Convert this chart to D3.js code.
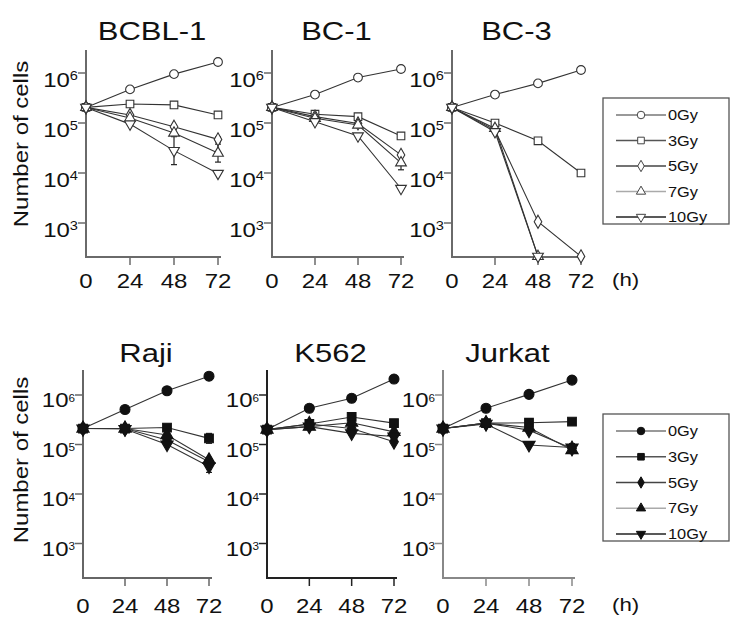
<!DOCTYPE html>
<html><head><meta charset="utf-8">
<script src="https://cdn.jsdelivr.net/npm/d3@7"></script>
<style>body{margin:0;background:#fff}svg{display:block}</style>
</head><body>
<svg id="c" width="744" height="629"></svg>
<script>
// ---- data ----
const hours = [0, 24, 48, 72];
const doses = ["0Gy", "3Gy", "5Gy", "7Gy", "10Gy"];
const topTitles = ["BCBL-1", "BC-1", "BC-3"];
const bottomTitles = ["Raji", "K562", "Jurkat"];
const yTickValues = [1e3, 1e4, 1e5, 1e6];
const yTickExponents = ["3", "4", "5", "6"];
const xTickLabels = ["0", "24", "48", "72"];
const yLabel = "Number of cells";
const unitLabel = "(h)";

// rows = doses, columns = hours (cells)
const bcbl1 = [
  [2.05e5, 4.7e5, 9.5e5, 1.66e6],
  [2.05e5, 2.4e5, 2.3e5, 1.45e5],
  [2.05e5, 1.45e5, 8.4e4, 4.7e4],
  [2.05e5, 1.26e5, 6.3e4, 2.5e4],
  [2.05e5, 9.5e4, 2.8e4, 9.8e3]
];
const bc1 = [
  [2.05e5, 3.7e5, 8.1e5, 1.2e6],
  [2.05e5, 1.5e5, 1.34e5, 5.5e4],
  [2.05e5, 1.34e5, 9.8e4, 2.3e4],
  [2.05e5, 1.24e5, 9.1e4, 1.6e4],
  [2.05e5, 1.06e5, 5.5e4, 4.9e3]
];
const bc3 = [
  [2.05e5, 3.7e5, 6.2e5, 1.15e6],
  [2.05e5, 1.0e5, 4.4e4, 1.0e4],
  [2.05e5, 7.2e4, 1.06e3, 215],
  [2.05e5, 7.8e4, 215, null],
  [2.05e5, 6.7e4, 215, null]
];
const raji = [
  [2.1e5, 5.1e5, 1.22e6, 2.4e6],
  [2.1e5, 2.1e5, 2.2e5, 1.33e5],
  [2.1e5, 2.1e5, 1.23e5, 4.5e4],
  [2.1e5, 2.1e5, 1.55e5, 4.9e4],
  [2.1e5, 2.05e5, 1.0e5, 3.6e4]
];
const k562 = [
  [2.0e5, 5.4e5, 8.6e5, 2.1e6],
  [2.0e5, 2.6e5, 3.6e5, 2.7e5],
  [2.0e5, 2.6e5, 2.1e5, 1.14e5],
  [2.0e5, 2.3e5, 2.75e5, 1.8e5],
  [2.0e5, 2.3e5, 1.68e5, 1.45e5]
];
const jurkat = [
  [2.1e5, 5.4e5, 1.03e6, 2.0e6],
  [2.1e5, 2.7e5, 2.75e5, 2.9e5],
  [2.1e5, 2.7e5, 1.95e5, 8.3e4],
  [2.1e5, 2.7e5, 2.2e5, 7.7e4],
  [2.1e5, 2.6e5, 9.8e4, 8.7e4]
];
// error bars: half-width in decades (log10 units)
const bcbl1Err = [[0,0,0,0],[0,0,0,0],[0,0,0,0.05],[0,0,0,0.18],[0,0,0.28,0]];
const bc1Err   = [[0,0,0,0],[0,0,0,0],[0,0,0,0],[0,0,0,0.14],[0,0,0,0]];
const bc3Err   = [[0,0,0,0],[0,0,0,0],[0,0,0,0],[0,0,0,0],[0,0,0,0]];
const rajiErr  = [[0,0,0,0],[0,0,0,0.1],[0,0,0,0],[0,0,0,0],[0,0,0,0.12]];
const k562Err  = [[0,0,0,0],[0,0,0,0],[0,0,0,0],[0,0,0,0],[0,0,0,0.12]];
const jurkatErr= [[0,0,0,0],[0,0,0,0],[0,0,0,0.1],[0,0,0,0],[0,0,0,0]];

// ---- layout / style ----
const SX = 1.17; // horizontal text stretch
const FONT = "'Liberation Sans', Arial, Helvetica, sans-serif";
const rows = [
  { titles: topTitles, data: [bcbl1, bc1, bc3], errs: [bcbl1Err, bc1Err, bc3Err], filled: false,
    xr: [[86, 218], [272, 401], [452, 581]], yTop: 50, yBot: 257, dom: [Math.pow(10, 2.32), Math.pow(10, 6.46)],
    titleY: 40, tickLabelY: 288, ylabY: 144, legendTop: 98, legendBot: 224,
    lblDy: 14, supSize: 12.5, supDy: -7, axisColors: ["#6a6a6a", "#6a6a6a", "#6a6a6a"] },
  { titles: bottomTitles, data: [raji, k562, jurkat], errs: [rajiErr, k562Err, jurkatErr], filled: true,
    xr: [[83, 209], [267, 394], [443, 572]], yTop: 370, yBot: 578, dom: [Math.pow(10, 2.303), Math.pow(10, 6.505)],
    titleY: 362, tickLabelY: 613, ylabY: 460, legendTop: 414, legendBot: 541,
    lblDy: 12.5, supSize: 10, supDy: -6, axisColors: ["#666", "#222", "#888"] }
];
const symbolTypes = [d3.symbolCircle, d3.symbolSquare, d3.symbolDiamond, d3.symbolTriangle, d3.symbolTriangle];
const symbolRot = [0, 0, 0, 0, 180];
const symbolSize = [60, 58, 50, 50, 50];
const legendLineColors = ["#777", "#555", "#444", "#aaa", "#222"];

const svg = d3.select("#c");

function stretchedText(g, x, y, str, size, anchor, rotate) {
  const t = g.append("g")
    .attr("transform", `translate(${x},${y})` + (rotate ? ` rotate(${rotate})` : "") + ` scale(${SX},1)`)
    .append("text")
    .attr("font-family", FONT).attr("font-size", size).attr("fill", "#111")
    .attr("text-anchor", anchor || "start");
  t.text(str);
  return t;
}

rows.forEach((row) => {
  row.titles.forEach((title, pi) => {
    const g = svg.append("g");
    const x = d3.scaleLinear().domain([0, 72]).range(row.xr[pi]);
    const y = d3.scaleLog().domain(row.dom).range([row.yBot, row.yTop]).clamp(true);
    const x0 = x(0);
    const axisColor = row.axisColors[pi];

    // title
    stretchedText(g, (x(0) + x(72)) / 2, row.titleY, title, 26.5, "middle");

    // axes
    g.append("line").attr("x1", x0).attr("x2", x0).attr("y1", row.yTop).attr("y2", row.yBot + 1)
      .attr("stroke", axisColor).attr("stroke-width", 2);
    g.append("line").attr("x1", x0 - 1).attr("x2", x(72) + 3).attr("y1", row.yBot).attr("y2", row.yBot)
      .attr("stroke", axisColor).attr("stroke-width", 2);
    // y ticks
    yTickValues.forEach((v, i) => {
      const yy = y(v);
      g.append("line").attr("x1", x0 - 8).attr("x2", x0).attr("y1", yy).attr("y2", yy)
        .attr("stroke", axisColor).attr("stroke-width", 1.5);
      const t = stretchedText(g, x0 - 8, yy + row.lblDy, "", 20.5, "end");
      t.append("tspan").text("10");
      t.append("tspan").attr("font-size", row.supSize).attr("dy", row.supDy).text(yTickExponents[i]);
    });
    // x ticks
    hours.forEach((h, i) => {
      const xx = x(h);
      if (i > 0) g.append("line").attr("x1", xx).attr("x2", xx).attr("y1", row.yBot).attr("y2", row.yBot + 8)
        .attr("stroke", axisColor).attr("stroke-width", 1.5);
      stretchedText(g, xx, row.tickLabelY, xTickLabels[i], 20.5, "middle");
    });
    if (pi === 0) stretchedText(g, 28, row.ylabY, yLabel, 20.5, "middle", -90);

    // series
    const data = row.data[pi], errs = row.errs[pi];
    const line = d3.line().defined(d => d.v != null).x(d => x(d.h)).y(d => y(d.v));
    data.forEach((vals, si) => {
      const pts = vals.map((v, i) => ({ h: hours[i], v: v, e: errs[si][i] }));
      g.append("path").datum(pts).attr("d", line).attr("fill", "none")
        .attr("stroke", "#333").attr("stroke-width", 1.1);
      pts.filter(p => p.v != null && p.e > 0).forEach(p => {
        const lv = Math.log10(p.v);
        const y1 = y(Math.pow(10, lv - p.e)), y2 = y(Math.pow(10, lv + p.e));
        g.append("line").attr("x1", x(p.h)).attr("x2", x(p.h)).attr("y1", y1).attr("y2", y2)
          .attr("stroke", "#222").attr("stroke-width", 1.2);
        [y1, y2].forEach(yy => g.append("line").attr("x1", x(p.h) - 3).attr("x2", x(p.h) + 3)
          .attr("y1", yy).attr("y2", yy).attr("stroke", "#222").attr("stroke-width", 1.2));
      });
    });
    data.forEach((vals, si) => {
      const sym = d3.symbol().type(symbolTypes[si]).size(symbolSize[si] * (row.filled ? 1.3 : 1));
      vals.forEach((v, i) => {
        if (v == null) return;
        g.append("path").attr("d", sym())
          .attr("transform", `translate(${x(hours[i])},${y(v)}) rotate(${symbolRot[si]})`)
          .attr("fill", row.filled ? "#111" : "#fff").attr("stroke", row.filled ? "#111" : "#333")
          .attr("stroke-width", 1.1);
      });
    });
  });

  // legend
  const lg = svg.append("g");
  lg.append("rect").attr("x", 603).attr("y", row.legendTop).attr("width", 126)
    .attr("height", row.legendBot - row.legendTop).attr("fill", "#fff")
    .attr("stroke", "#555").attr("stroke-width", 1.3);
  const rowH = (row.legendBot - row.legendTop - 24) / 4;
  doses.forEach((d, si) => {
    const yy = row.legendTop + 17 + si * rowH;
    lg.append("line").attr("x1", 616).attr("x2", 666).attr("y1", yy).attr("y2", yy)
      .attr("stroke", legendLineColors[si]).attr("stroke-width", 1.3);
    const sym = d3.symbol().type(symbolTypes[si]).size(symbolSize[si] * 0.75);
    lg.append("path").attr("d", sym())
      .attr("transform", `translate(641,${yy}) rotate(${symbolRot[si]})`)
      .attr("fill", row.filled ? "#111" : "#fff").attr("stroke", row.filled ? "#111" : "#444")
      .attr("stroke-width", 1);
    stretchedText(lg, 668, yy + 5, d, 14, "start");
  });
  stretchedText(svg, 612, row.tickLabelY - 2, unitLabel, 19, "start");
});
</script>
</body></html>
